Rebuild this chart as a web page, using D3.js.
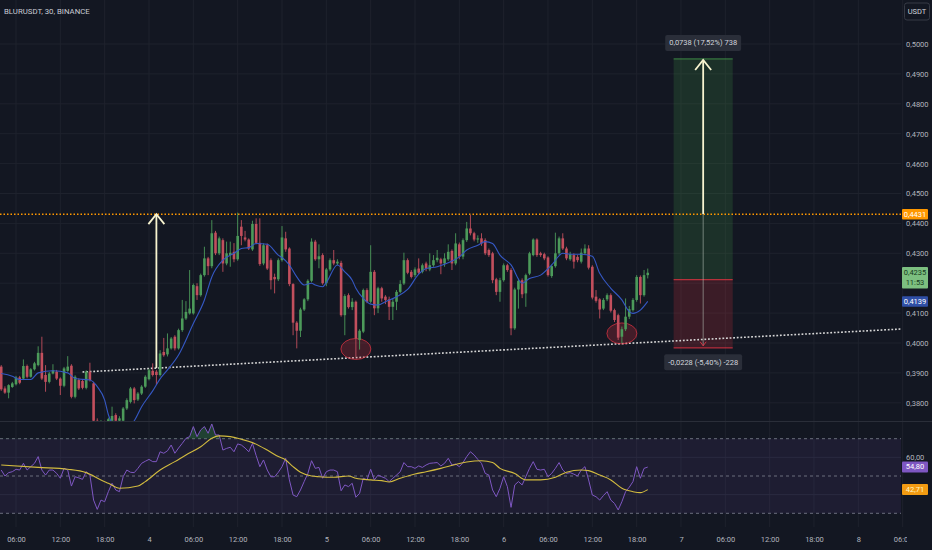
<!DOCTYPE html>
<html>
<head>
<meta charset="utf-8">
<script src="https://cdn.jsdelivr.net/npm/d3@7"></script>
<style>
  body { margin: 0; background: #131722; }
  svg { display: block; }
  text { font-family: "Liberation Sans Narrow", Roboto, sans-serif; }
</style>
</head>
<body>
<div id="chart"></div>
<script>
////////////////////////////////////////////////////////////////////
////////////////////////////  Data  ///////////////////////////////
const symbolTitle = "BLURUSDT, 30, BINANCE";
const firstCandle = Date.UTC(2024, 2, 3, 4, 0); // 3rd, 04:00
const candleMs = 30 * 60 * 1000;

// [open, high, low, close]
const ohlc = [
  [.3921,.3926,.3840,.3845],[.3848,.3855,.3830,.3834],[.3834,.3862,.3815,.3859],[.3853,.3870,.3850,.3865],
  [.3862,.3890,.3858,.3885],[.3885,.3890,.3862,.3867],[.3881,.3945,.3876,.3923],[.3923,.3928,.3882,.3887],
  [.3887,.3916,.3884,.3912],[.3912,.3937,.3908,.3932],[.3926,.3989,.3922,.3967],[.3967,.4021,.3876,.3881],
  [.3893,.3926,.3837,.3870],[.3870,.3903,.3865,.3898],[.3898,.3929,.3895,.3909],[.3904,.3910,.3876,.3881],
  [.3881,.3885,.3826,.3857],[.3857,.3920,.3852,.3915],[.3907,.3956,.3904,.3921],[.3924,.3929,.3815,.3820],
  [.3820,.3892,.3815,.3887],[.3876,.3882,.3843,.3848],[.3873,.3878,.3845,.3850],[.3850,.3909,.3845,.3904],
  [.3904,.3934,.3871,.3876],[.3865,.3870,.3730,.3740],[.3740,.3748,.3700,.3712],[.3712,.3742,.3705,.3735],
  [.3735,.3740,.3712,.3722],[.3722,.3750,.3718,.3745],[.3740,.3787,.3735,.3756],[.3759,.3765,.3730,.3740],
  [.3740,.3755,.3728,.3748],[.3740,.3786,.3735,.3781],[.3781,.3815,.3776,.3809],[.3803,.3853,.3798,.3848],
  [.3848,.3853,.3798,.3809],[.3811,.3836,.3806,.3831],[.3831,.3859,.3826,.3854],[.3854,.3892,.3850,.3887],
  [.3879,.3914,.3875,.3909],[.3907,.3932,.3888,.3893],[.3904,.3910,.3860,.3893],[.3893,.3976,.3888,.3965],
  [.3970,.4017,.3954,.3959],[.3962,.4032,.3955,.3982],[.3982,.4020,.3978,.4015],[.4021,.4026,.3975,.3982],
  [.3982,.4048,.3978,.4043],[.4043,.4144,.4037,.4082],[.4082,.4140,.4077,.4104],[.4099,.4244,.4095,.4115],
  [.4099,.4199,.4095,.4194],[.4190,.4200,.4144,.4160],[.4160,.4232,.4155,.4227],[.4227,.4322,.4222,.4283],
  [.4283,.4288,.4227,.4257],[.4257,.4411,.4250,.4367],[.4369,.4375,.4294,.4300],[.4300,.4356,.4294,.4350],
  [.4344,.4350,.4238,.4266],[.4266,.4339,.4260,.4300],[.4294,.4339,.4255,.4302],[.4305,.4334,.4270,.4280],
  [.4280,.4436,.4275,.4358],[.4389,.4411,.4327,.4358],[.4353,.4375,.4340,.4346],[.4346,.4350,.4311,.4316],
  [.4313,.4409,.4308,.4398],[.4398,.4417,.4330,.4335],[.4335,.4417,.4258,.4264],[.4266,.4333,.4260,.4327],
  [.4327,.4333,.4244,.4249],[.4277,.4283,.4179,.4210],[.4221,.4232,.4166,.4213],[.4213,.4283,.4207,.4277],
  [.4277,.4391,.4272,.4353],[.4350,.4372,.4305,.4313],[.4316,.4320,.4190,.4197],[.4197,.4200,.4026,.4068],
  [.4068,.4073,.3982,.4041],[.4041,.4118,.4020,.4112],[.4112,.4150,.4107,.4146],[.4146,.4213,.4140,.4208],
  [.4208,.4350,.4203,.4339],[.4339,.4345,.4275,.4280],[.4280,.4330,.4250,.4290],[.4294,.4300,.4195,.4200],
  [.4200,.4251,.4190,.4246],[.4246,.4283,.4240,.4277],[.4277,.4311,.4260,.4266],[.4266,.4280,.4260,.4272],
  [.4268,.4275,.4088,.4093],[.4093,.4163,.4026,.4157],[.4160,.4166,.4115,.4120],[.4120,.4150,.4110,.4138],
  [.4138,.4142,.3954,.4015],[.4010,.4046,.3978,.4041],[.4038,.4182,.4033,.4177],[.4177,.4183,.4133,.4138],
  [.4138,.4327,.4133,.4238],[.4238,.4244,.4093,.4116],[.4116,.4188,.4100,.4183],[.4183,.4188,.4138,.4149],
  [.4155,.4160,.4130,.4144],[.4146,.4155,.4077,.4121],[.4121,.4150,.4077,.4138],[.4138,.4177,.4110,.4171],
  [.4171,.4210,.4166,.4197],[.4199,.4302,.4194,.4277],[.4277,.4283,.4230,.4235],[.4238,.4244,.4216,.4221],
  [.4227,.4253,.4220,.4246],[.4249,.4283,.4230,.4235],[.4238,.4266,.4233,.4260],[.4266,.4272,.4240,.4249],
  [.4246,.4300,.4240,.4260],[.4260,.4294,.4255,.4277],[.4277,.4311,.4270,.4285],[.4280,.4285,.4230,.4266],
  [.4266,.4300,.4255,.4283],[.4280,.4330,.4275,.4305],[.4308,.4313,.4244,.4266],[.4266,.4367,.4260,.4333],
  [.4330,.4336,.4280,.4289],[.4289,.4350,.4280,.4344],[.4344,.4405,.4338,.4383],[.4383,.4428,.4360,.4367],
  [.4367,.4372,.4340,.4346],[.4346,.4360,.4335,.4350],[.4350,.4367,.4325,.4333],[.4344,.4350,.4294,.4300],
  [.4311,.4316,.4288,.4294],[.4300,.4305,.4200,.4210],[.4213,.4218,.4160,.4171],[.4171,.4218,.4138,.4210],
  [.4210,.4266,.4205,.4260],[.4260,.4265,.4238,.4244],[.4244,.4250,.4026,.4049],[.4049,.4185,.4044,.4179],
  [.4179,.4215,.4115,.4208],[.4210,.4216,.4150,.4163],[.4166,.4232,.4121,.4227],[.4232,.4305,.4227,.4300],
  [.4294,.4350,.4290,.4346],[.4346,.4350,.4288,.4294],[.4300,.4305,.4288,.4294],[.4297,.4302,.4277,.4283],
  [.4286,.4290,.4222,.4227],[.4224,.4262,.4218,.4257],[.4257,.4369,.4252,.4300],[.4300,.4356,.4294,.4350],
  [.4350,.4367,.4311,.4316],[.4316,.4322,.4277,.4283],[.4280,.4305,.4275,.4297],[.4294,.4300,.4249,.4272],
  [.4288,.4294,.4270,.4277],[.4272,.4316,.4266,.4302],[.4300,.4330,.4294,.4316],[.4316,.4327,.4246,.4252],
  [.4255,.4260,.4146,.4152],[.4155,.4177,.4135,.4141],[.4146,.4150,.4082,.4112],[.4115,.4150,.4110,.4144],
  [.4146,.4166,.4140,.4160],[.4160,.4166,.4102,.4108],[.4110,.4115,.4070,.4077],[.4093,.4098,.4010,.4018],
  [.4021,.4055,.3999,.4046],[.4046,.4149,.4040,.4088],[.4088,.4124,.4080,.4113],[.4110,.4150,.4105,.4144],
  [.4144,.4227,.4138,.4221],[.4221,.4226,.4132,.4160],[.4160,.4244,.4155,.4227],[.4227,.4249,.4216,.4235]
];

// blue moving average, [candle index, value]
const maPoints = [
  [0,.3898],[3,.3889],[5,.3878],[8,.3878],[10,.3900],[14,.3907],[18,.3900],[20,.3881],[24,.3876],
  [26,.3854],[28,.3809],[29,.3760],[31,.3722],[34,.3715],[36,.3740],[38,.3787],[41,.3840],[43,.3880],
  [45,.3910],[48,.3960],[52,.4065],[55,.4144],[57,.4221],[60,.4277],[63,.4300],[65,.4316],[67,.4319],
  [69,.4333],[72,.4330],[75,.4294],[76,.4286],[78,.4261],[80,.4221],[82,.4194],[84,.4200],[85,.4194],
  [87,.4188],[88,.4202],[91,.4261],[93,.4238],[95,.4210],[96,.4183],[98,.4149],[100,.4130],[102,.4127],
  [104,.4138],[107,.4155],[110,.4179],[113,.4230],[115,.4249],[118,.4255],[121,.4268],[124,.4288],
  [126,.4311],[129,.4327],[131,.4339],[133,.4333],[135,.4294],[138,.4261],[141,.4200],[143,.4216],
  [146,.4227],[149,.4261],[152,.4300],[154,.4297],[157,.4297],[160,.4290],[162,.4233],[165,.4183],
  [168,.4144],[170,.4105],[171,.4099],[173,.4110],[175,.4139]
];

// RSI per candle
const rsiValues = [
  53.2,50.0,51.8,52.3,53.6,53.2,56.8,53.2,55.0,56.8,60.4,53.2,50.5,53.2,53.2,51.4,48.8,54.1,53.2,44.6,
  49.6,49.0,48.2,52.3,50.5,37.1,32.1,37.1,36.2,41.6,46.1,42.5,41.6,49.6,53.2,52.0,51.8,54.1,56.8,57.9,
  58.9,57.7,57.7,63.0,62.2,63.5,66.6,62.2,65.0,67.5,70.2,71.1,76.5,71.1,74.7,76.5,72.9,77.9,72.0,72.0,
  63.9,64.8,65.4,63.0,67.2,66.6,65.0,63.0,67.5,61.0,55.0,58.6,53.2,49.6,49.6,52.0,55.0,59.5,47.9,39.8,
  38.9,42.5,47.0,51.4,58.2,54.1,54.6,48.8,52.3,53.2,53.2,52.3,42.1,45.2,44.3,46.1,38.6,40.7,48.8,47.9,
  53.6,47.9,50.5,49.6,48.8,47.0,48.8,50.5,52.3,57.2,55.0,55.0,54.1,55.4,54.6,55.9,56.8,57.0,57.2,55.4,
  56.8,59.5,55.9,56.4,55.0,57.2,60.4,63.0,61.3,58.9,56.8,51.4,50.5,42.5,38.9,43.4,49.6,44.3,33.2,45.2,
  47.0,45.2,49.6,54.1,57.7,53.6,53.2,53.6,49.6,51.4,54.1,57.2,53.2,51.4,51.8,51.0,50.0,53.2,55.0,47.9,
  39.8,38.9,37.1,39.5,41.6,37.1,35.3,31.8,36.2,41.6,44.0,47.0,55.0,48.8,54.1,54.8
];

// RSI-based MA (yellow), [candle index, value]
const rsiMaPoints = [
  [0,55.9],[10,54.6],[18,53.6],[23,51.8],[27,47.9],[29,46.1],[32,43.4],[37,44.6],[39,47.0],[43,53.2],
  [47,57.7],[50,61.3],[54,65.7],[57,70.2],[59,71.5],[62,71.1],[65,69.7],[68,67.9],[72,63.9],[75,60.4],
  [77,58.6],[79,55.0],[81,52.0],[84,50.0],[86,49.6],[90,49.3],[94,50.0],[96,48.8],[100,47.9],[103,47.5],
  [105,46.8],[108,48.8],[112,51.1],[115,52.3],[119,54.1],[123,56.2],[126,57.5],[130,58.2],[133,57.2],
  [135,54.1],[139,51.4],[142,47.9],[146,47.9],[150,49.3],[153,52.0],[157,53.2],[159,52.9],[162,50.5],
  [165,47.9],[168,43.4],[171,41.6],[173,41.1],[175,42.71]
];

const priceTicks = [0.38,0.39,0.40,0.41,0.42,0.43,0.44,0.45,0.46,0.47,0.48,0.49,0.50];
const hiddenTicks = [0.42]; // sits under the last-price tag
const rsiLevels = [70, 50, 30];
const rsiGrid = [60, 40];
const resistance = 0.4431;
const lastPrice = 0.4235;
const lastCountdown = "11:53";
const maLast = 0.4139;
const rsiLast = 54.80;
const rsiMaLast = 42.71;

// drawings (candle index, price)
const trendline = [[22, 0.3903], [244, 0.4047]];
const moveArrow = [42, 0.3916, resistance];
const lowMarks = [[96, 0.3980], [168, 0.4032]];
const position = { from: 182, to: 198, entry: 0.4212, target: 0.4950, stop: 0.3984 };
const targetText = "0,0738 (17,52%) 738";
const stopText = "-0,0228 (-5,40%) -228";

////////////////////////////////////////////////////////////////////
////////////////////////////  Init  ///////////////////////////////
const width = 932;
const height = 550;
const plotRight = 901;
const paneBottom = 421;

const up = "#4c9a5a";
const down = "#c24f5d";
const gridColor = "#1e222d";
const axisText = "#b2b5be";
const fs = "7.5px";

const svg = d3.select("#chart").append("svg").attr("width", width).attr("height", height);

const timeOf = (i) => new Date(firstCandle + i * candleMs);

const xScale = d3.scaleUtc()
  .domain([Date.UTC(2024, 2, 3), Date.UTC(2024, 2, 8)])
  .range([-28.33, 858.33]);
const yScale = d3.scaleLinear().domain([0.38, 0.50]).range([402.8, 44]);
const rsiScale = d3.scaleLinear().domain([30, 70]).range([513.3, 438.7]);

const comma = d3.formatLocale({ decimal: ",", thousands: ".", grouping: [3], currency: ["", ""] });
const fmtPrice = comma.format(".4f");
const fmtRsi = comma.format(".2f");

const timeTicks = d3.utcHour.every(6)
  .range(Date.UTC(2024, 2, 3), Date.UTC(2024, 2, 8, 7))
  .filter((d) => xScale(d) > 0);
const fmtTime = (d) => (d.getUTCHours() === 0 ? d3.utcFormat("%-d")(d) : d3.utcFormat("%H:%M")(d));

const defs = svg.append("defs");
defs.append("clipPath").attr("id", "pane").append("rect")
  .attr("x", 0).attr("y", 0).attr("width", plotRight).attr("height", paneBottom);
defs.append("clipPath").attr("id", "timeclip").append("rect")
  .attr("x", 0).attr("y", 520).attr("width", 907).attr("height", 30);
defs.append("clipPath").attr("id", "ob").append("rect")
  .attr("x", 0).attr("y", 422).attr("width", plotRight).attr("height", rsiScale(70) - 422);

////////////////////////////////////////////////////////////////////
////////////////////////////  Grid  ///////////////////////////////
svg.append("g").selectAll("line").data(timeTicks).join("line")
  .attr("x1", (d) => xScale(d)).attr("x2", (d) => xScale(d))
  .attr("y1", 0).attr("y2", 527)
  .attr("stroke", gridColor);

svg.append("g").selectAll("line").data(priceTicks).join("line")
  .attr("x1", 0).attr("x2", plotRight)
  .attr("y1", (d) => yScale(d)).attr("y2", (d) => yScale(d))
  .attr("stroke", gridColor);

// pane separator
svg.append("line").attr("x1", 0).attr("x2", width).attr("y1", 421.5).attr("y2", 421.5)
  .attr("stroke", "#2a2e39");

////////////////////////////////////////////////////////////////////
////////////////////////////  Price pane  /////////////////////////
const pane = svg.append("g").attr("clip-path", "url(#pane)");

// position tool
const px0 = xScale(timeOf(position.from));
const pw = xScale(timeOf(position.to)) - px0;
const pos = pane.append("g");
pos.append("rect")
  .attr("x", px0).attr("width", pw)
  .attr("y", yScale(position.target)).attr("height", yScale(position.entry) - yScale(position.target))
  .attr("fill", "rgba(76,175,80,0.17)");
pos.append("rect")
  .attr("x", px0).attr("width", pw)
  .attr("y", yScale(position.entry)).attr("height", yScale(position.stop) - yScale(position.entry))
  .attr("fill", "rgba(242,54,69,0.18)");
[[position.target, "rgba(76,175,80,0.6)"], [position.entry, "rgba(242,54,69,0.7)"], [position.stop, "rgba(242,54,69,0.7)"]]
  .forEach(([p, c]) => {
    pos.append("line")
      .attr("x1", px0).attr("x2", px0 + pw)
      .attr("y1", yScale(p)).attr("y2", yScale(p)).attr("stroke", c).attr("stroke-width", 1.2);
  });
const midX = xScale(timeOf((position.from + position.to) / 2));
pos.append("line").attr("x1", midX).attr("x2", midX)
  .attr("y1", yScale(resistance)).attr("y2", yScale(position.stop) - 2)
  .attr("stroke", "rgba(190,200,190,0.55)").attr("stroke-width", 1);
pos.append("path")
  .attr("d", `M${midX - 3},${yScale(position.stop) - 6}L${midX},${yScale(position.stop) - 2}L${midX + 3},${yScale(position.stop) - 6}`)
  .attr("fill", "none").attr("stroke", "rgba(242,54,69,0.8)");

// resistance
pane.append("line")
  .attr("x1", 0).attr("x2", plotRight)
  .attr("y1", yScale(resistance)).attr("y2", yScale(resistance))
  .attr("stroke", "#ff9800").attr("stroke-width", 1.5).attr("stroke-dasharray", "1.5,2");

// trendline
pane.append("line")
  .attr("x1", xScale(timeOf(trendline[0][0]))).attr("y1", yScale(trendline[0][1]))
  .attr("x2", xScale(timeOf(trendline[1][0]))).attr("y2", yScale(trendline[1][1]))
  .attr("stroke", "#d6d6d6").attr("stroke-width", 1.6).attr("stroke-dasharray", "1.8,1.8");

// low marks
pane.append("g").selectAll("ellipse").data(lowMarks).join("ellipse")
  .attr("cx", (d) => xScale(timeOf(d[0]))).attr("cy", (d) => yScale(d[1]))
  .attr("rx", 15).attr("ry", 10.5)
  .attr("fill", "rgba(242,54,69,0.22)").attr("stroke", "rgba(242,54,69,0.65)");

// candles
const candles = ohlc.map((d, i) => ({ t: timeOf(i), o: d[0], h: d[1], l: d[2], c: d[3] }));
const cg = pane.append("g");
cg.selectAll("line").data(candles).join("line")
  .attr("x1", (d) => xScale(d.t)).attr("x2", (d) => xScale(d.t))
  .attr("y1", (d) => yScale(d.h)).attr("y2", (d) => yScale(d.l))
  .attr("stroke", (d) => (d.c >= d.o ? up : down)).attr("stroke-width", 0.9);
cg.selectAll("rect").data(candles).join("rect")
  .attr("x", (d) => xScale(d.t) - 1.3).attr("width", 2.6)
  .attr("y", (d) => yScale(Math.max(d.o, d.c)))
  .attr("height", (d) => Math.max(0.8, Math.abs(yScale(d.o) - yScale(d.c))))
  .attr("fill", (d) => (d.c >= d.o ? up : down));

// moving average
const maLine = d3.line().curve(d3.curveMonotoneX)
  .x((d) => xScale(timeOf(d[0]))).y((d) => yScale(d[1]));
pane.append("path").datum(maPoints)
  .attr("fill", "none").attr("stroke", "#3558c4").attr("stroke-width", 1.1).attr("d", maLine);

// arrows
const arrow = (g, xp, y0, y1) => {
  g.append("line").attr("x1", xp).attr("x2", xp).attr("y1", y0).attr("y2", y1)
    .attr("stroke", "#f7f3cf").attr("stroke-width", 1.8);
  g.append("path").attr("d", `M${xp - 8},${y1 + 10}L${xp},${y1}L${xp + 8},${y1 + 10}`)
    .attr("fill", "none").attr("stroke", "#f7f3cf").attr("stroke-width", 1.8);
};
arrow(pane, xScale(timeOf(moveArrow[0])), yScale(moveArrow[1]), yScale(moveArrow[2]));
arrow(pane, midX, yScale(resistance), yScale(position.target) + 1);

////////////////////////////////////////////////////////////////////
////////////////////////////  RSI pane  ///////////////////////////
svg.append("rect")
  .attr("x", 0).attr("width", plotRight)
  .attr("y", rsiScale(70)).attr("height", rsiScale(30) - rsiScale(70))
  .attr("fill", "rgba(126,87,194,0.1)");

svg.append("g").selectAll("line").data(rsiGrid).join("line")
  .attr("x1", 0).attr("x2", plotRight)
  .attr("y1", (d) => rsiScale(d)).attr("y2", (d) => rsiScale(d))
  .attr("stroke", "#2a2a40");

svg.append("g").selectAll("line").data(rsiLevels).join("line")
  .attr("x1", 0).attr("x2", plotRight)
  .attr("y1", (d) => rsiScale(d)).attr("y2", (d) => rsiScale(d))
  .attr("stroke", "#6b6f7d").attr("stroke-dasharray", "3,3");

svg.append("path").datum(rsiValues)
  .attr("clip-path", "url(#ob)")
  .attr("fill", "rgba(56,142,80,0.35)")
  .attr("d", d3.area().x((d, i) => xScale(timeOf(i))).y0(rsiScale(70)).y1((d) => rsiScale(d)));

svg.append("path").datum(rsiValues)
  .attr("fill", "none").attr("stroke", "#7e57c2").attr("stroke-width", 1)
  .attr("d", d3.line().x((d, i) => xScale(timeOf(i))).y((d) => rsiScale(d)));

svg.append("path").datum(rsiMaPoints)
  .attr("fill", "none").attr("stroke", "#d2bb3f").attr("stroke-width", 1.1)
  .attr("d", d3.line().curve(d3.curveMonotoneX).x((d) => xScale(timeOf(d[0]))).y((d) => rsiScale(d[1])));

////////////////////////////////////////////////////////////////////
////////////////////////////  Axes  ///////////////////////////////
const xAxis = d3.axisBottom(xScale).tickValues(timeTicks).tickFormat(fmtTime).tickSize(0).tickPadding(3);
const gx = svg.append("g").attr("clip-path", "url(#timeclip)")
  .append("g").attr("transform", "translate(0,534)").call(xAxis);
gx.select(".domain").remove();
gx.selectAll("text").attr("fill", axisText).style("font-size", fs);

const yAxis = d3.axisRight(yScale)
  .tickValues(priceTicks.filter((d) => !hiddenTicks.includes(d)))
  .tickFormat(fmtPrice).tickSize(0).tickPadding(5);
const gy = svg.append("g").attr("transform", `translate(${plotRight},0)`).call(yAxis);
gy.select(".domain").remove();
gy.selectAll("text").attr("fill", axisText).style("font-size", fs);

svg.append("text").attr("x", 906).attr("y", rsiScale(60)).attr("dy", "0.32em")
  .attr("fill", axisText).style("font-size", fs).text(fmtRsi(60));

// price tags on the right scale
const tag = (yc, h, lines, fill, color) => {
  svg.append("rect").attr("x", 902).attr("width", 26).attr("y", yc - h / 2).attr("height", h)
    .attr("rx", 1).attr("fill", fill);
  lines.forEach((s, k) => {
    svg.append("text").attr("x", 915).attr("y", yc - h / 2 + 5.5 + k * 10).attr("dy", "0.32em")
      .attr("text-anchor", "middle").attr("fill", color).style("font-size", fs).text(s);
  });
};
tag(yScale(resistance), 10.5, [fmtPrice(resistance)], "#ff9800", "#fff");
tag(yScale(lastPrice) + 5, 21.5, [fmtPrice(lastPrice), lastCountdown], "#7cbf80", "#153a1c");
tag(yScale(maLast), 10.5, [fmtPrice(maLast)], "#2f4fa6", "#fff");
tag(rsiScale(rsiLast), 11, [fmtRsi(rsiLast)], "#7e57c2", "#fff");
tag(rsiScale(rsiMaLast), 11, [fmtRsi(rsiMaLast)], "#f29b12", "#fff6c8");

// position labels
const box = (cx, cy, s) => {
  const r = svg.append("rect").attr("y", cy - 8).attr("height", 16).attr("rx", 2).attr("fill", "#2a2e39");
  const t = svg.append("text").attr("x", cx).attr("y", cy).attr("dy", "0.32em").attr("text-anchor", "middle")
    .attr("fill", "#d1d4dc").style("font-size", fs).text(s);
  const w = t.node().getComputedTextLength() + 8;
  r.attr("x", cx - w / 2).attr("width", w);
};
box(midX, yScale(position.target) - 16, targetText);
box(midX, yScale(position.stop) + 14.5, stopText);

// title + currency
svg.append("text").attr("x", 4).attr("y", 11.5).attr("dy", "0.32em")
  .attr("fill", "#c9ccd4").style("font-size", "7.8px").text(symbolTitle);
svg.append("rect").attr("x", 904.5).attr("y", 3).attr("width", 25).attr("height", 17).attr("rx", 2.5)
  .attr("fill", "none").attr("stroke", "#363a45");
svg.append("text").attr("x", 917).attr("y", 11.5).attr("dy", "0.32em").attr("text-anchor", "middle")
  .attr("fill", "#d1d4dc").style("font-size", fs).text("USDT");
</script>
</body>
</html>
